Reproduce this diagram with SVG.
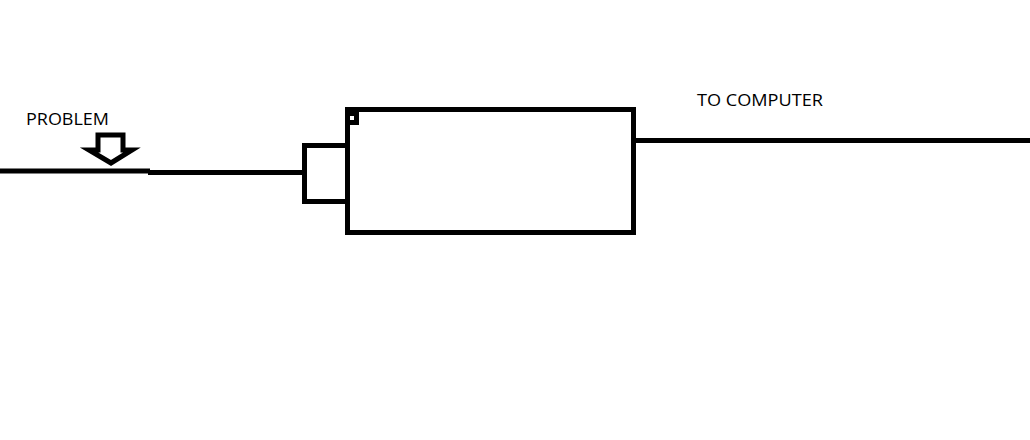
<svg xmlns="http://www.w3.org/2000/svg" width="1030" height="440" viewBox="0 0 1030 440">
<style>
.s{fill:none;stroke:#000;stroke-width:5}
.t{font-family:"Open Sans","Liberation Sans",sans-serif;font-size:17px;fill:#000}
</style>
<rect width="1030" height="440" fill="#fff"/>
<g id="connectors">
<line class="s" x1="0" y1="171" x2="150" y2="171"/>
<line class="s" x1="148" y1="172.5" x2="304" y2="172.5"/>
<line class="s" x1="634" y1="140.5" x2="1030" y2="140.5"/>
</g>
<g id="problem-arrow">
<polygon class="s" stroke-width="4.5" stroke-linejoin="miter" points="98,135 123,135 123,150 132,150 111,163 89,150 98,150"/>
<text class="t" x="26" y="124.5" textLength="83" lengthAdjust="spacingAndGlyphs">PROBLEM</text>
</g>
<g id="adapter">
<rect class="s" x="304.5" y="145.5" width="43" height="56"/>
</g>
<g id="device">
<rect class="s" x="347.5" y="109.5" width="286" height="123"/>
<rect class="s" x="347.5" y="113.5" width="9" height="9"/>
</g>
<g id="computer-label">
<text class="t" x="697" y="105.5" textLength="126" lengthAdjust="spacingAndGlyphs">TO COMPUTER</text>
</g>
</svg>
